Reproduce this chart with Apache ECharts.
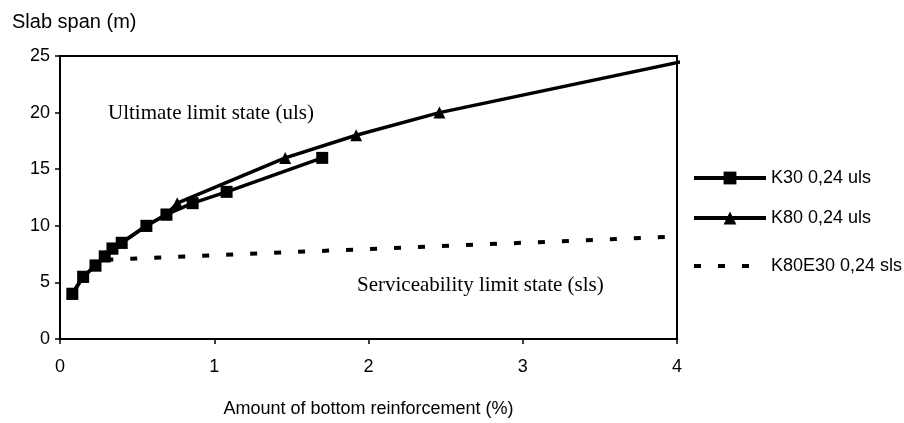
<!DOCTYPE html>
<html>
<head>
<meta charset="utf-8">
<script src="https://cdn.jsdelivr.net/npm/echarts@6/dist/echarts.min.js"></script>
<style>
html,body{margin:0;padding:0;background:#fff;}
#chart{width:904px;height:423px;}
</style>
</head>
<body>
<div id="chart"></div>
<script>
// Data (x = amount of bottom reinforcement %, y = slab span m)
const k30X = [0.08, 0.15, 0.23, 0.29, 0.34, 0.40, 0.56, 0.69, 0.86, 1.08, 1.70];
const k30Y = [4.0, 5.5, 6.5, 7.3, 8.0, 8.5, 10.0, 11.0, 12.0, 13.0, 16.0];
const k80X = [0.08, 0.15, 0.23, 0.29, 0.34, 0.40, 0.56, 0.69, 0.76, 1.46, 1.92, 2.46, 4.03];
const k80Y = [4.0, 5.5, 6.5, 7.3, 8.0, 8.5, 10.0, 11.0, 12.0, 16.0, 18.0, 20.0, 24.5];
const slsX = [0.30, 1.0, 2.0, 3.0, 4.0];
const slsY = [7.0, 7.4, 7.95, 8.5, 9.05];
const xTicks = [0, 1, 2, 3, 4];
const yTicks = [0, 5, 10, 15, 20, 25];
const seriesNames = ['K30 0,24 uls', 'K80 0,24 uls', 'K80E30 0,24 sls'];

const zip = (xs, ys) => xs.map((x, i) => [x, ys[i]]);
const k80Data = zip(k80X, k80Y).map((p, i, arr) =>
  i === arr.length - 1 ? { value: p, symbol: 'none' } : p);

const sans = 'Arial, "Liberation Sans", sans-serif';
const serif = '"Times New Roman", "Liberation Serif", serif';

const chart = echarts.init(document.getElementById('chart'));
const legendBase = {
  orient: 'vertical', left: 687, itemWidth: 72, itemHeight: 16, itemGap: 0,
  textStyle: { fontFamily: sans, fontSize: 18, color: '#000' },
  lineStyle: { width: 4 },
  selectedMode: false
};
chart.setOption({
  animation: false,
  backgroundColor: '#fff',
  grid: { left: 60, right: 227, top: 56, bottom: 80, show: true, borderColor: '#000', borderWidth: 2 },
  title: {
    text: 'Slab span (m)', left: 7, top: 7,
    textStyle: { fontFamily: sans, fontSize: 20, fontWeight: 'normal', color: '#000' }
  },
  legend: [
    Object.assign({}, legendBase, { data: [seriesNames[0]], top: 164 }),
    Object.assign({}, legendBase, { data: [seriesNames[1]], top: 204 }),
    Object.assign({}, legendBase, { data: [seriesNames[2]], top: 252, itemStyle: { opacity: 0 } })
  ],
  xAxis: {
    type: 'value', min: 0, max: 4, interval: 1,
    name: 'Amount of bottom reinforcement (%)', nameLocation: 'middle', nameGap: 61,
    nameTextStyle: { fontFamily: sans, fontSize: 18, color: '#000' },
    axisLine: { onZero: false, lineStyle: { color: '#000', width: 2 } },
    axisTick: { show: true, length: 5, lineStyle: { color: '#000', width: 1.5 } },
    axisLabel: { fontFamily: sans, fontSize: 18, color: '#000', margin: 19,
      formatter: v => xTicks.includes(v) ? String(v) : '' },
    splitLine: { show: false }
  },
  yAxis: {
    type: 'value', min: 0, max: 25, interval: 5,
    axisLine: { show: true, lineStyle: { color: '#000', width: 2 } },
    axisTick: { show: true, length: 5, lineStyle: { color: '#000', width: 1.5 } },
    axisLabel: { fontFamily: sans, fontSize: 18, color: '#000', margin: 10,
      formatter: v => yTicks.includes(v) ? String(v) : '' },
    splitLine: { show: false }
  },
  graphic: [
    { type: 'text', left: 108, top: 103,
      style: { text: 'Ultimate limit state (uls)', font: '21px ' + serif, fill: '#000' } },
    { type: 'text', left: 357, top: 275,
      style: { text: 'Serviceability limit state (sls)', font: '21px ' + serif, fill: '#000' } }
  ],
  series: [
    { name: seriesNames[0], type: 'line', data: zip(k30X, k30Y),
      symbol: 'rect', symbolSize: 12, showAllSymbol: true,
      lineStyle: { color: '#000', width: 3.5 }, itemStyle: { color: '#000' } },
    { name: seriesNames[1], type: 'line', data: k80Data,
      symbol: 'triangle', symbolSize: 12, showAllSymbol: true, clip: false,
      lineStyle: { color: '#000', width: 3.5 }, itemStyle: { color: '#000' } },
    { name: seriesNames[2], type: 'line', data: zip(slsX, slsY),
      symbol: 'none',
      lineStyle: { color: '#000', width: 4, type: [7, 17] }, itemStyle: { color: '#000' } }
  ]
});
</script>
</body>
</html>
